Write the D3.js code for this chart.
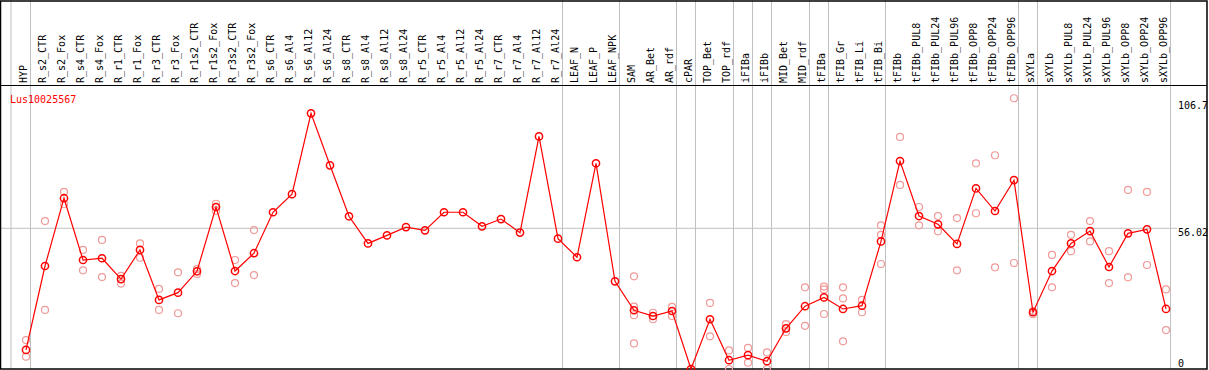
<!DOCTYPE html>
<html>
  <head>
    <meta charset="utf-8">
    <title>Lus10025567</title>
    <script src="https://d3js.org/d3.v7.min.js"></script>
    <style>
      body { margin: 0; background: #fff; }
      text { font-family: "DejaVu Sans Mono", monospace; font-size: 10px; }
    </style>
  </head>
  <body>
    <script>
      const geneName = "Lus10025567";

      const categories = [
        "HYP", "R_s2_CTR", "R_s2_Fox", "R_s4_CTR", "R_s4_Fox", "R_r1_CTR", "R_r1_Fox",
        "R_r3_CTR", "R_r3_Fox", "R_r1s2_CTR", "R_r1s2_Fox", "R_r3s2_CTR", "R_r3s2_Fox",
        "R_s6_CTR", "R_s6_Al4", "R_s6_Al12", "R_s6_Al24", "R_s8_CTR", "R_s8_Al4", "R_s8_Al12", "R_s8_Al24",
        "R_r5_CTR", "R_r5_Al4", "R_r5_Al12", "R_r5_Al24", "R_r7_CTR", "R_r7_Al4", "R_r7_Al12", "R_r7_Al24",
        "LEAF_N", "LEAF_P", "LEAF_NPK", "SAM", "AR_Bet", "AR_rdf", "cPAR", "TOP_Bet", "TOP_rdf",
        "iFIBa", "iFIBb", "MID_Bet", "MID_rdf", "tFIBa", "tFIB_Gr", "tFIB_Li", "tFIB_Bi",
        "tFIBb", "tFIBb_PUL8", "tFIBb_PUL24", "tFIBb_PUL96", "tFIBb_OPP8", "tFIBb_OPP24", "tFIBb_OPP96",
        "sXYLa", "sXYLb", "sXYLb_PUL8", "sXYLb_PUL24", "sXYLb_PUL96", "sXYLb_OPP8", "sXYLb_OPP24", "sXYLb_OPP96"
      ];

      // mean expression per sample
      const means = [
        7.6, 41.0, 68.0, 43.4, 44.1, 35.8, 47.4,
        27.5, 30.4, 38.9, 64.5, 39.0, 46.1,
        62.4, 69.6, 101.8, 81.1, 60.8, 50.0, 53.2, 56.5,
        55.2, 62.4, 62.4, 56.8, 59.7, 54.3, 92.6, 51.9,
        44.5, 81.9, 34.9, 23.4, 21.1, 23.1, 0.0, 19.8, 3.5,
        5.5, 3.1, 16.2, 25.0, 28.5, 23.9, 25.2, 50.8,
        82.8, 60.9, 57.6, 49.8, 71.9, 62.9, 75.2,
        22.6, 39.0, 50.0, 54.9, 40.6, 54.0, 55.6, 23.9
      ];

      // replicate values per sample
      const replicates = [
        [11.5, 4.9], [58.9, 23.5], [70.5, 65.7], [47.4, 39.3], [51.4, 36.6], [37.1, 34.0], [50.0, 44.3],
        [31.9, 23.5], [38.5, 22.2], [39.8, 37.8], [65.8, 62.9], [43.4, 34.2], [55.3, 37.4],
        [], [], [], [], [], [], [], [],
        [], [], [], [], [], [], [], [],
        [], [], [], [36.9, 24.8, 21.4, 10.2], [22.4, 19.8], [24.7, 21.1], [], [26.3, 13.0], [7.4, 0.0],
        [8.4, 2.5], [6.6, 0.0], [17.9, 14.7], [32.5, 17.2], [32.8, 31.7, 21.9], [32.5, 28.1, 11.0], [27.5, 22.6], [57.2, 53.4, 41.8],
        [92.4, 73.3], [64.5, 57.2], [60.9, 54.8], [60.1, 39.3], [81.9, 62.0], [85.1, 40.5], [107.8, 42.2],
        [23.1, 21.8], [45.4, 32.5], [53.4, 46.9], [58.9, 50.8], [46.9, 34.2], [71.3, 36.5], [70.5, 41.4], [31.7, 15.5]
      ];

      // last sample of each tissue group (separator drawn after it)
      const groupEnds = ["HYP", "R_r7_Al24", "LEAF_NPK", "AR_rdf", "cPAR", "TOP_rdf", "iFIBa", "iFIBb",
        "MID_rdf", "tFIBa", "tFIB_Bi", "tFIBb_OPP96", "sXYLa", "sXYLb_OPP96"];

      const yTickValues = [106.7, 56.02, 0];

      const width = 1209;
      const height = 370;
      const plotTop = 85;
      const plotBottom = 369;
      const rightEdge = 1207;

      const svg = d3.select("body")
        .append("svg")
        .attr("width", width)
        .attr("height", height);

      const xScale = d3.scalePoint()
        .domain(categories)
        .range([26, 1166]);

      const yScale = d3.scaleLinear()
        .domain([0, 106.7])
        .range([plotBottom, 101]);

      // gray separators between groups (including one before the first sample)
      const sepX = [xScale(categories[0]) - 15].concat(groupEnds.map(c => xScale(c) + 4.5));
      svg.selectAll(".sep")
        .data(sepX)
        .enter()
        .append("line")
        .attr("x1", d => d)
        .attr("x2", d => d)
        .attr("y1", 0)
        .attr("y2", plotBottom)
        .attr("stroke", "#c0c0c0")
        .attr("stroke-width", 1);

      // gray reference line
      svg.append("line")
        .attr("x1", 0)
        .attr("x2", 1177)
        .attr("y1", yScale(56.02))
        .attr("y2", yScale(56.02))
        .attr("stroke", "#c0c0c0")
        .attr("stroke-width", 1);

      // frame
      svg.append("rect")
        .attr("x", 0.5)
        .attr("y", 1)
        .attr("width", rightEdge - 0.5)
        .attr("height", plotBottom - 1)
        .attr("fill", "none")
        .attr("stroke", "#000")
        .attr("stroke-width", 1.5);

      svg.append("line")
        .attr("x1", 0)
        .attr("x2", rightEdge)
        .attr("y1", plotTop + 0.5)
        .attr("y2", plotTop + 0.5)
        .attr("stroke", "#000");

      // rotated sample labels
      svg.selectAll(".lab")
        .data(categories)
        .enter()
        .append("text")
        .attr("transform", d => "translate(" + (xScale(d) + 1) + "," + (plotTop - 2) + ") rotate(-90)")
        .attr("fill", "#000")
        .text(d => d);

      // right side value labels
      svg.selectAll(".ytick")
        .data(yTickValues)
        .enter()
        .append("text")
        .attr("x", 1178)
        .attr("y", d => Math.min(yScale(d) + 8, 367))
        .attr("fill", "#000")
        .text(d => d);

      svg.append("text")
        .attr("x", 10)
        .attr("y", 103)
        .attr("fill", "#ff0000")
        .text(geneName);

      // replicate points
      const repPoints = [];
      replicates.forEach((reps, i) => reps.forEach(v => repPoints.push({cat: categories[i], value: v})));
      svg.selectAll(".rep")
        .data(repPoints)
        .enter()
        .append("circle")
        .attr("cx", d => xScale(d.cat))
        .attr("cy", d => yScale(d.value))
        .attr("r", 3.5)
        .attr("fill", "none")
        .attr("stroke", "#f09a9a")
        .attr("stroke-width", 1.2);

      // mean line
      const line = d3.line()
        .x((d, i) => xScale(categories[i]))
        .y(d => yScale(d));

      svg.append("path")
        .datum(means)
        .attr("d", line)
        .attr("fill", "none")
        .attr("stroke", "#ff0000")
        .attr("stroke-width", 1.2);

      svg.selectAll(".mean")
        .data(means)
        .enter()
        .append("circle")
        .attr("cx", (d, i) => xScale(categories[i]))
        .attr("cy", d => yScale(d))
        .attr("r", 3.6)
        .attr("fill", "none")
        .attr("stroke", "#ff0000")
        .attr("stroke-width", 1.5);
    </script>
  </body>
</html>
